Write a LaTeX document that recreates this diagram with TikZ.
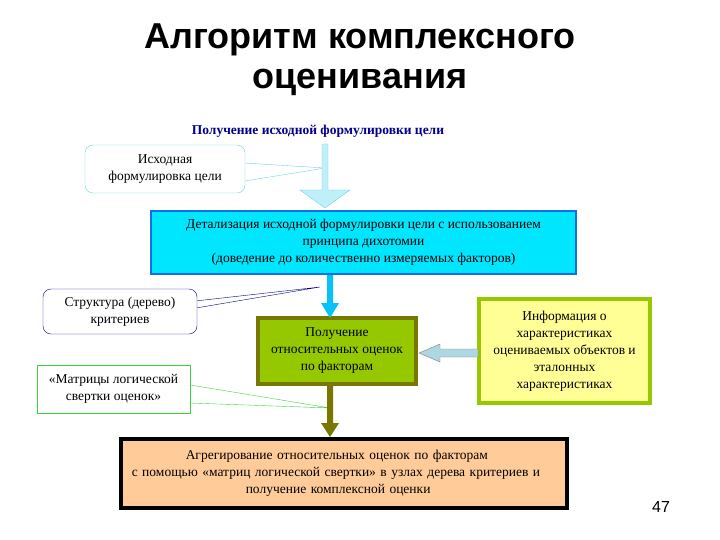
\documentclass[tikz,border=0pt]{standalone}
\usepackage{fontspec}
\setmainfont{Liberation Serif}
\newfontfamily\ttl{Liberation Sans}
\usetikzlibrary{calc,backgrounds}
\definecolor{navyt}{RGB}{0,0,140}
\definecolor{cyanf}{RGB}{0,230,255}
\definecolor{blueb}{RGB}{20,110,230}
\definecolor{greenf}{RGB}{150,200,0}
\definecolor{oliveb}{RGB}{120,120,0}
\definecolor{yellf}{RGB}{255,255,150}
\definecolor{peach}{RGB}{255,204,153}
\definecolor{lcyan}{RGB}{190,240,250}
\definecolor{lcyanb}{RGB}{110,210,225}
\definecolor{lblue}{RGB}{175,215,225}
\definecolor{callg}{RGB}{60,210,60}
\begin{document}
\begin{tikzpicture}[x=1pt,y=-1pt,
  txt/.style={font=\fontsize{13.5}{17}\selectfont,align=center,inner sep=0pt},
  callout/.style={txt,fill=white,minimum height=#1},
  ]
\useasboundingbox (0,0) rectangle (720,540);
\node[font=\ttl\bfseries\fontsize{36}{40}\selectfont,align=center] (title) at (360,60) {Алгоритм комплексного\\оценивания};
\node[txt,font=\bfseries\fontsize{13.5}{15}\selectfont,text=navyt] (sub) at (318,131) {Получение исходной формулировки цели};
% boxes
\node[txt,draw=blueb,line width=2.5pt,fill=cyanf,minimum width=425,minimum height=63] (det) at (363.5,242.5) {Детализация исходной формулировки цели с использованием\\принципа дихотомии\\(доведение до количественно измеряемых факторов)};
\node[txt,draw=oliveb,line width=3.5pt,fill=greenf,minimum width=158,minimum height=66] (rel) at (337,351) {Получение\\относительных оценок\\по факторам};
\node[txt,draw=greenf,line width=3.5pt,fill=yellf,minimum width=171,minimum height=104] (info) at (564.5,351) {Информация о\\характеристиках\\оцениваемых объектов и\\эталонных\\характеристиках};
\node[txt,draw=black,line width=3.5pt,fill=peach,minimum width=446,minimum height=69,anchor=north west,text width=440,align=left] (agg) at (119,437) {\hspace*{62pt}Агрегирование относительных оценок по факторам\\\hspace*{8pt}с помощью «матриц логической свертки» в узлах дерева критериев  и\\\hspace*{122pt}получение  комплексной оценки};
% callouts
\node[callout=48,draw=lcyanb,rounded corners=8pt,minimum width=160] (c1) at (165,169) {Исходная\\формулировка цели};
\node[callout=45,draw=navyt,rounded corners=8pt,minimum width=154] (c2) at (120,311.5) {Структура  (дерево)\\критериев};
\node[callout=48,draw=callg,minimum width=153] (c3) at (113.5,389) {«Матрицы логической\\свертки оценок»};
\coordinate (t1) at (325,168);
\coordinate (t2) at (320,287);
\coordinate (t3) at (330,408);
\begin{scope}[on background layer]
\draw[lcyanb] ($(c1.east)+(0,-6)$) -- (t1) -- ($(c1.east)+(0,12)$);
\draw[navyt] ($(c2.north east)+(0,12)$) -- (t2) -- ($(c2.north east)+(0,19)$);
\draw[callg] ($(c3.east)+(0,-4)$) -- (t3) -- ($(c3.east)+(0,14)$);
\end{scope}
% arrows
\fill[lcyan,draw=lcyanb] (322,144) -- (328,144) -- (328,190) -- (350,190) -- (325,208) -- (300,190) -- (322,190) -- cycle;
\fill[cyanf!70!blueb] (327,275) -- (333,275) -- (333,303) -- (339,303) -- (330,318) -- (321,303) -- (327,303) -- cycle;
\fill[oliveb] (327,385) -- (333,385) -- (333,423) -- (339,423) -- (330,437) -- (321,423) -- (327,423) -- cycle;
\draw[gray,fill=lblue] (478,349) -- (440,349) -- (440,344) -- (419,353) -- (440,362) -- (440,357) -- (478,357) -- cycle;
\node[font=\ttl\fontsize{16}{18}\selectfont] (num) at (661,507) {47};
\end{tikzpicture}
\end{document}
